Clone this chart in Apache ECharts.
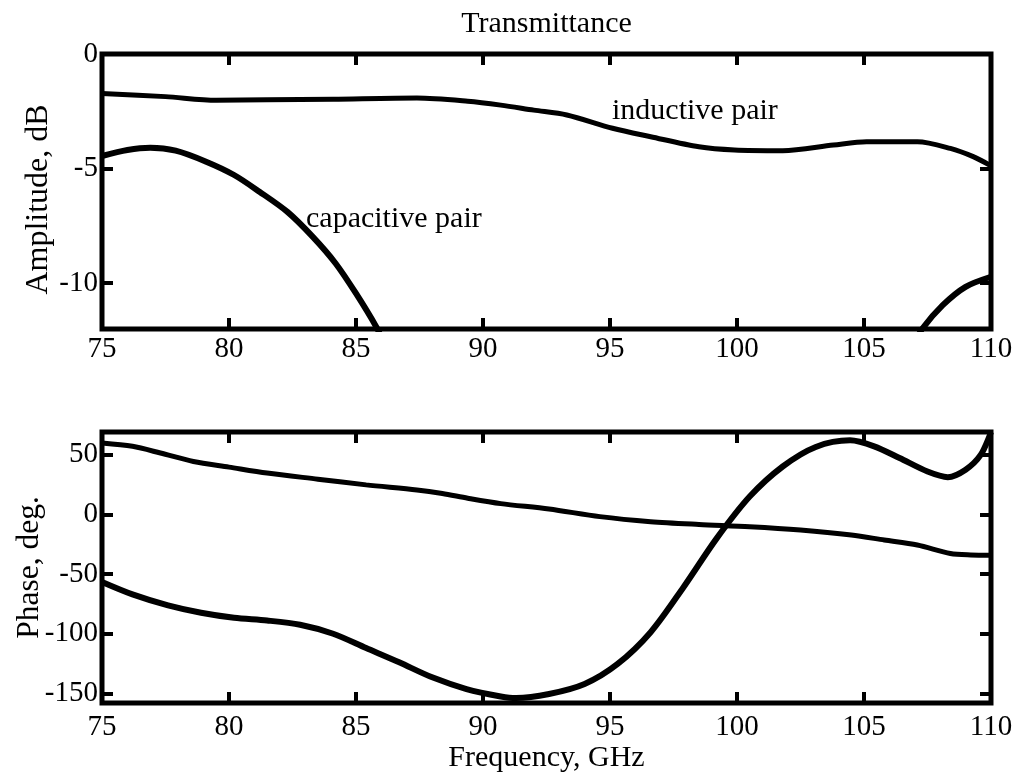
<!DOCTYPE html>
<html><head><meta charset="utf-8">
<script src="https://cdn.jsdelivr.net/npm/echarts@6/dist/echarts.min.js"></script>
<style>html,body{margin:0;padding:0;background:#fff}#c{width:1018px;height:772px}</style>
</head><body><div id="c"></div>
<script>
// ---- data ----
const freqTicks = [75, 80, 85, 90, 95, 100, 105, 110];
const ampTicks = [0, -5, -10];
const phaseTicks = [50, 0, -50, -100, -150];

const ampIndFreq = [75, 77.5, 79.5, 81.5, 84.1, 87.4, 89.4, 90.7, 92, 93.3, 95.1, 96.6, 98.5, 99.9, 101.8, 103.8, 105.1, 107.1, 108.4, 109.3, 110];
const ampIndVal  = [-1.72, -1.86, -2.02, -2.0, -1.97, -1.92, -2.06, -2.23, -2.45, -2.66, -3.24, -3.61, -4.05, -4.19, -4.22, -3.97, -3.83, -3.83, -4.12, -4.48, -4.88];

const ampCapFreq = [75, 76, 76.9, 77.9, 79.1, 80.2, 81.2, 82.3, 83.3, 84.2, 85.0, 85.8, 86.1, 96.5, 107.0, 107.3, 108.1, 109.0, 110];
const ampCapVal  = [-4.45, -4.19, -4.09, -4.22, -4.7, -5.28, -6.01, -6.89, -7.98, -9.14, -10.45, -11.91, -12.6, null, -12.6, -11.98, -10.96, -10.16, -9.72];

const phIndFreq = [75, 76.2, 77.3, 78.6, 80, 81.5, 83.5, 85.4, 87.4, 88.4, 89.4, 90.7, 92.6, 94.6, 96.6, 98.5, 100.5, 102.5, 104.5, 105.8, 107.1, 108.4, 109.2, 110];
const phIndVal  = [59.8, 57, 51.4, 44.3, 39.6, 34.6, 29.5, 24.7, 20.5, 17.5, 13.5, 9, 4.5, -1.9, -6.1, -8.4, -10.3, -13.1, -17.3, -21.5, -25.7, -32.8, -34, -34.2];

const phCapFreq = [75, 76.2, 77.6, 78.9, 80.2, 81.5, 82.8, 84.1, 85.4, 86.7, 88.0, 89.35, 90.7, 91.3, 92.6, 94.0, 95.3, 96.6, 97.9, 99.2, 100.5, 101.8, 103.1, 104.45, 105.4, 106.4, 107.5, 108.3, 109.0, 109.6, 110];
const phCapVal  = [-56.6, -67, -76.2, -82.4, -86.6, -88.9, -92.5, -100, -112, -123.9, -136.5, -146.3, -152.5, -153.9, -150.5, -142.1, -125.3, -98.7, -60.8, -20.1, 14.9, 40.1, 56.5, 62, 57, 47.2, 35.9, 31.2, 37.4, 50, 69];

const titleText = 'Transmittance';
const ampName = 'Amplitude, dB';
const phaseName = 'Phase, deg.';
const freqName = 'Frequency, GHz';
const indLabel = 'inductive pair';
const capLabel = 'capacitive pair';

// ---- chart ----
const FONT = '"Liberation Serif", "Times New Roman", serif';
const pairs = (xs, ys) => xs.map((x, i) => [x, ys[i]]);
const tick = {show: true, inside: true, length: 11, lineStyle: {color: '#000', width: 4}};
const showIf = (arr) => (v) => (arr.some(t => Math.abs(t - v) < 1e-6) ? String(v) : '');

function xAx(gi, pos, labels, margin, name, gap) {
  return {
    type: 'value', gridIndex: gi, position: pos, min: 75, max: 110, interval: 5,
    axisLine: {show: false, onZero: false}, axisTick: tick, splitLine: {show: false},
    axisLabel: {show: labels, margin: margin, fontFamily: FONT, fontSize: 29, color: '#000',
      showMinLabel: true, showMaxLabel: true, formatter: showIf(freqTicks)},
    name: name || '', nameLocation: 'middle', nameGap: gap || 0, nameMoveOverlap: false,
    nameTextStyle: {fontFamily: FONT, fontSize: 30, color: '#000'}
  };
}
function yAx(gi, pos, labels, min, max, step, ticks, name, gap, nsize, npad) {
  return {
    type: 'value', gridIndex: gi, position: pos, min: min, max: max,
    minInterval: step, maxInterval: step, splitNumber: 4,
    axisLine: {show: false, onZero: false}, axisTick: tick, splitLine: {show: false},
    axisLabel: {show: labels, margin: 4, fontFamily: FONT, fontSize: 29, color: '#000',
      formatter: showIf(ticks)},
    name: name || '', nameLocation: 'middle', nameGap: gap || 0, nameRotate: 90, nameMoveOverlap: false,
    nameTextStyle: {fontFamily: FONT, fontSize: nsize || 30, color: '#000', padding: npad || 0}
  };
}
function line(xi, yi, data, w) {
  return {type: 'line', xAxisIndex: xi, yAxisIndex: yi, data: data, showSymbol: false, symbol: 'none',
    smooth: 0.3, connectNulls: false, clip: true,
    lineStyle: {color: '#000', width: w}, itemStyle: {color: '#000'}, animation: false};
}

const chart = echarts.init(document.getElementById('c'));
chart.setOption({
  animation: false,
  backgroundColor: '#fff',
  grid: [
    {left: 102, top: 54, width: 889, height: 275, show: true, borderColor: '#000', borderWidth: 5,
     backgroundColor: 'transparent', containLabel: false, outerBoundsMode: 'none'},
    {left: 102, top: 432, width: 889, height: 271, show: true, borderColor: '#000', borderWidth: 5,
     backgroundColor: 'transparent', containLabel: false, outerBoundsMode: 'none'}
  ],
  xAxis: [
    xAx(0, 'bottom', true, 6),
    xAx(0, 'top', false, 5),
    xAx(1, 'bottom', true, 10, freqName, 40),
    xAx(1, 'top', false, 5)
  ],
  yAxis: [
    yAx(0, 'left', true, -12, 0, 5, ampTicks, ampName, 47, 32, [0, 16, 0, 0]),
    yAx(0, 'right', false, -12, 0, 5, ampTicks),
    yAx(1, 'left', true, -158, 69, 50, phaseTicks, phaseName, 56, 31.5),
    yAx(1, 'right', false, -158, 69, 50, phaseTicks)
  ],
  series: [
    line(0, 0, pairs(ampIndFreq, ampIndVal), 5),
    line(0, 0, pairs(ampCapFreq, ampCapVal), 6),
    line(2, 2, pairs(phIndFreq, phIndVal), 5),
    line(2, 2, pairs(phCapFreq, phCapVal), 6)
  ],
  graphic: [
    {type: 'text', x: 546.5, y: 24, style: {text: titleText, font: '30px ' + FONT, fill: '#000',
      align: 'center', verticalAlign: 'middle', textAlign: 'center', textVerticalAlign: 'middle'}},
    {type: 'text', x: 612, y: 111, style: {text: indLabel, font: '30px ' + FONT, fill: '#000',
      align: 'left', verticalAlign: 'middle', textAlign: 'left', textVerticalAlign: 'middle'}},
    {type: 'text', x: 306, y: 219, style: {text: capLabel, font: '30px ' + FONT, fill: '#000',
      align: 'left', verticalAlign: 'middle', textAlign: 'left', textVerticalAlign: 'middle'}}
  ]
});
</script>
</body></html>
